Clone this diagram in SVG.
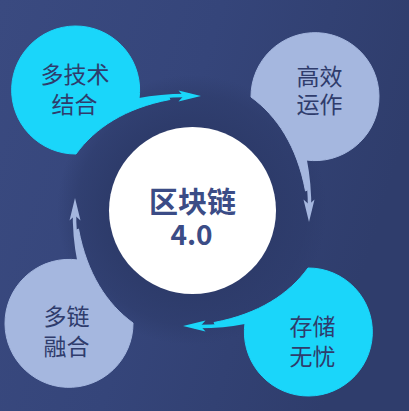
<svg xmlns="http://www.w3.org/2000/svg" xmlns:xlink="http://www.w3.org/1999/xlink" width="409" height="411" viewBox="0 0 409 411">
  <defs>
    <linearGradient id="bg" x1="0" y1="0" x2="1" y2="0.3">
      <stop offset="0" stop-color="#3a4a80"/>
      <stop offset="0.5" stop-color="#35457a"/>
      <stop offset="1" stop-color="#2f3d6c"/>
    </linearGradient>
    <radialGradient id="ring" cx="192" cy="210" r="135" gradientUnits="userSpaceOnUse">
      <stop offset="0.6" stop-color="#2d3b6a" stop-opacity="1"/>
      <stop offset="0.85" stop-color="#2d3b6a" stop-opacity="0.6"/>
      <stop offset="1" stop-color="#2d3b6a" stop-opacity="0"/>
    </radialGradient>
    <path id="blob" d="M76,154 A64,64 0 1 1 139,99 L168,96 L170,99.5 C125,108 95,128 76,154 Z"/>
    <g id="arrow">
      <path d="M138,100 Q163,95 190,95.5" fill="none" stroke-width="3.5"/>
      <path d="M201,96 L178.5,90.5 L183.5,96 L178.5,101.5 Z" stroke="none"/>
    </g>
  </defs>
  <style>
    .lbl { font-family: "Noto Sans CJK SC", "Noto Sans", sans-serif; font-size: 23px; fill: #2f3c6c; text-anchor: middle; dominant-baseline: central; }
    .ctr { font-family: "Noto Sans CJK SC", "Noto Sans", sans-serif; font-weight: bold; fill: #3b4c86; text-anchor: middle; dominant-baseline: central; }
    .cyan { fill: #1ad6fa; stroke: #1ad6fa; }
    .lav { fill: #a5b7df; stroke: #a5b7df; }
  </style>
  <rect width="409" height="411" fill="url(#bg)"/>
  <circle cx="192" cy="210" r="135" fill="url(#ring)"/>

  <g id="connectors">
    <use xlink:href="#arrow" class="cyan"/>
    <use xlink:href="#arrow" class="lav" transform="translate(3,3) rotate(90 192 210)"/>
    <use xlink:href="#arrow" class="cyan" transform="translate(0,2) rotate(180 192 210)"/>
    <use xlink:href="#arrow" class="lav" transform="translate(-3,-3) rotate(270 192 210)"/>
  </g>

  <g id="node-center">
    <circle cx="192.5" cy="210.5" r="83.5" fill="#ffffff"/>
    <text class="ctr" x="192.5" y="200" font-size="29">区块链</text>
    <text class="ctr" x="191.5" y="233" font-size="28">4.0</text>
  </g>

  <g id="node-tl">
    <use xlink:href="#blob" class="cyan" stroke="none"/>
    <text class="lbl" x="75" y="73">多技术</text>
    <text class="lbl" x="74.5" y="103">结合</text>
  </g>

  <g id="node-tr">
    <use xlink:href="#blob" class="lav" stroke="none" transform="translate(3,3) rotate(90 192 210)"/>
    <text class="lbl" x="319.5" y="75">高效</text>
    <text class="lbl" x="319.5" y="103">运作</text>
  </g>

  <g id="node-br">
    <use xlink:href="#blob" class="cyan" stroke="none" transform="translate(0,2) rotate(180 192 210)"/>
    <text class="lbl" x="312.5" y="325">存储</text>
    <text class="lbl" x="312.5" y="355">无忧</text>
  </g>

  <g id="node-bl">
    <use xlink:href="#blob" class="lav" stroke="none" transform="translate(-3,-3) rotate(270 192 210)"/>
    <text class="lbl" x="66.5" y="315">多链</text>
    <text class="lbl" x="66.5" y="345">融合</text>
  </g>
</svg>
